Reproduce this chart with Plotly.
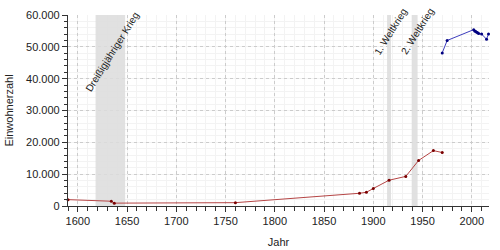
import plotly.graph_objects as go

# Data
years_old = [1590, 1634, 1637, 1760, 1886, 1893, 1900, 1916, 1933, 1946, 1961, 1970]
pop_old = [2000, 1500, 900, 1050, 4000, 4300, 5500, 8100, 9300, 14300, 17400, 16800]
years_new = [1970, 1975, 2002, 2003, 2004, 2005, 2006, 2007, 2010, 2015, 2017]
pop_new = [48100, 52000, 55400, 55000, 54800, 54600, 54400, 54200, 54000, 52400, 54000]

war_names = ["Dreißigjähriger Krieg", "1. Weltkrieg", "2. Weltkrieg"]
war_start = [1618, 1914, 1939]
war_end = [1648, 1918, 1945]
label_x = [1635, 1917.5, 1944.5]
label_y = [0.81, 0.915, 0.915]

y_ticks = [0, 10000, 20000, 30000, 40000, 50000, 60000]
y_labels = ["0", "10.000", "20.000", "30.000", "40.000", "50.000", "60.000"]
x_ticks = [1600, 1650, 1700, 1750, 1800, 1850, 1900, 1950, 2000]
y_max = 60000

font = "Liberation Sans, Arial, sans-serif"

fig = go.Figure()
for s, e in zip(war_start, war_end):
    fig.add_trace(go.Scatter(
        x=[s, s, e, e, s], y=[0, y_max, y_max, 0, 0], mode="lines",
        fill="toself", fillcolor="rgba(220,220,220,0.85)", line=dict(width=0),
        hoverinfo="skip", showlegend=False,
    ))

fig.add_trace(go.Scatter(
    x=years_old, y=pop_old, mode="lines+markers",
    line=dict(color="#b54545", width=1),
    marker=dict(color="#7a0000", size=3),
    cliponaxis=False, showlegend=False,
))
fig.add_trace(go.Scatter(
    x=years_new, y=pop_new, mode="lines+markers",
    line=dict(color="#3d3dbd", width=1),
    marker=dict(color="#000080", size=3),
    cliponaxis=False, showlegend=False,
))

for name, lx, ly in zip(war_names, label_x, label_y):
    fig.add_annotation(x=lx, y=ly, xref="x", yref="paper", text=name,
                       showarrow=False, textangle=-58,
                       xanchor="center", yanchor="middle",
                       font=dict(family=font, size=10, color="#222"))

fig.update_layout(
    width=500, height=250,
    margin=dict(l=68, r=11, t=15, b=44),
    paper_bgcolor="white", plot_bgcolor="white",
    font=dict(family=font, size=11, color="#222"),
    xaxis=dict(
        range=[1590, 2017.5], tickvals=x_ticks, automargin=False,
        showline=True, linecolor="#333", linewidth=1.2,
        ticks="outside", ticklen=5, tickcolor="#333",
        showgrid=True, gridcolor="#cccccc", griddash="dot", gridwidth=1,
        minor=dict(dtick=10, tick0=1600, showgrid=True, gridcolor="#f3f3f3",
                   griddash="solid", gridwidth=1,
                   ticks="outside", ticklen=4, tickcolor="#333"),
        zeroline=False,
        title=dict(text="Jahr", font=dict(size=11), standoff=12),
    ),
    yaxis=dict(
        range=[0, y_max], tickvals=y_ticks, ticktext=y_labels, automargin=False,
        showline=True, linecolor="#333", linewidth=1.2,
        ticks="outside", ticklen=5, tickcolor="#333",
        showgrid=True, gridcolor="#cccccc", griddash="dot", gridwidth=1,
        minor=dict(dtick=2000, tick0=0, showgrid=True, gridcolor="#f3f3f3",
                   griddash="solid", gridwidth=1,
                   ticks="outside", ticklen=3, tickcolor="#333"),
        zeroline=False,
        title=dict(text="Einwohnerzahl", font=dict(size=11), standoff=10),
    ),
)

fig.write_html("out.html")
